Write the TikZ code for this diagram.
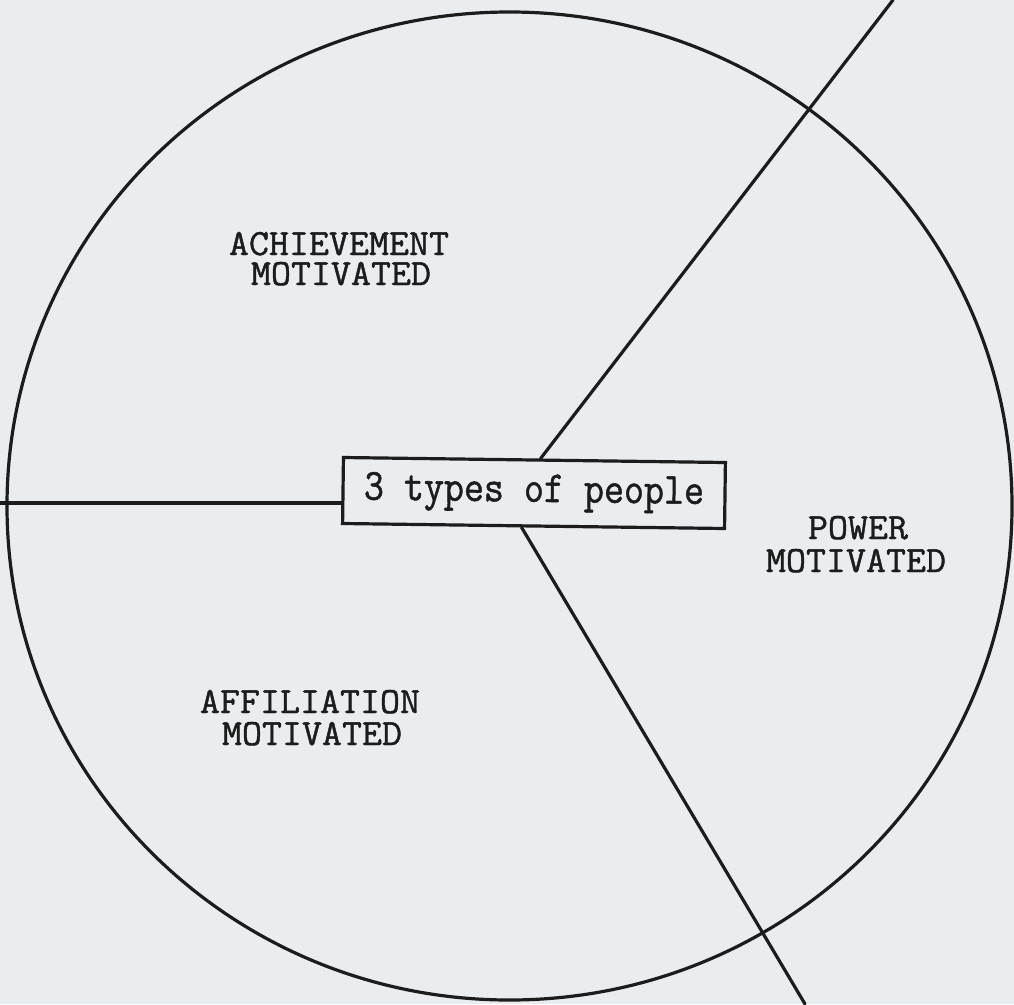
\documentclass[tikz,border=0pt]{standalone}
\usepackage{fontspec}
\usepackage{graphicx}
\usetikzlibrary{calc}
\newfontfamily\twfont{Latin Modern Mono}[FakeBold=1.2, FakeStretch=1.05]
\definecolor{paper}{RGB}{233,237,239}
\definecolor{ink}{RGB}{28,28,28}
\newcommand{\typeface}{\twfont\fontsize{37}{31}\selectfont}
\tikzset{
  inkline/.style={draw=ink, line width=3.2pt, line cap=round},
  typed/.style={text=ink, font=\typeface, inner sep=0pt},
  centrebox/.style={draw=ink, line width=3.2pt, minimum width=382pt, minimum height=66pt, inner sep=0pt,
    text=ink, font=\typeface, rotate=-0.75}
}
\begin{document}
\begin{tikzpicture}[x=1pt,y=-1pt]
  \fill[paper] (0,0) rectangle (1014,1004);
  \useasboundingbox (0,0) rectangle (1014,1004);
  % circle
  \draw[inkline] (509.5,506) ellipse [x radius=502.5, y radius=494];
  % centre box
  \node[centrebox] (box) at (534,493) {\scalebox{1}[1.2]{3 types of people}};
  % free ends
  \coordinate (Lend) at (0,503);
  \coordinate (Uend) at (893,0);
  \coordinate (Dend) at (805,1004);
  \coordinate (Ustart) at ($(box.north west)!0.516!(box.north east)$);
  \coordinate (Dstart) at ($(box.south west)!0.469!(box.south east)$);
  \draw[inkline] (Lend) -- (box.west |- Lend);
  \draw[inkline] (Ustart) -- (Uend);
  \draw[inkline] (Dstart) -- (Dend);
  % labels
  \node[typed, anchor=base] (ach1) at (339,255) {ACHIEVEMENT};
  \node[typed, anchor=base] (ach2) at (341,285) {MOTIVATED};
  \node[typed, anchor=base] (aff1) at (310,713) {AFFILIATION};
  \node[typed, anchor=base] (aff2) at (312,745) {MOTIVATED};
  \node[typed, anchor=base] (pow1) at (858,539) {POWER};
  \node[typed, anchor=base] (pow2) at (856,572) {MOTIVATED};
\end{tikzpicture}
\end{document}
